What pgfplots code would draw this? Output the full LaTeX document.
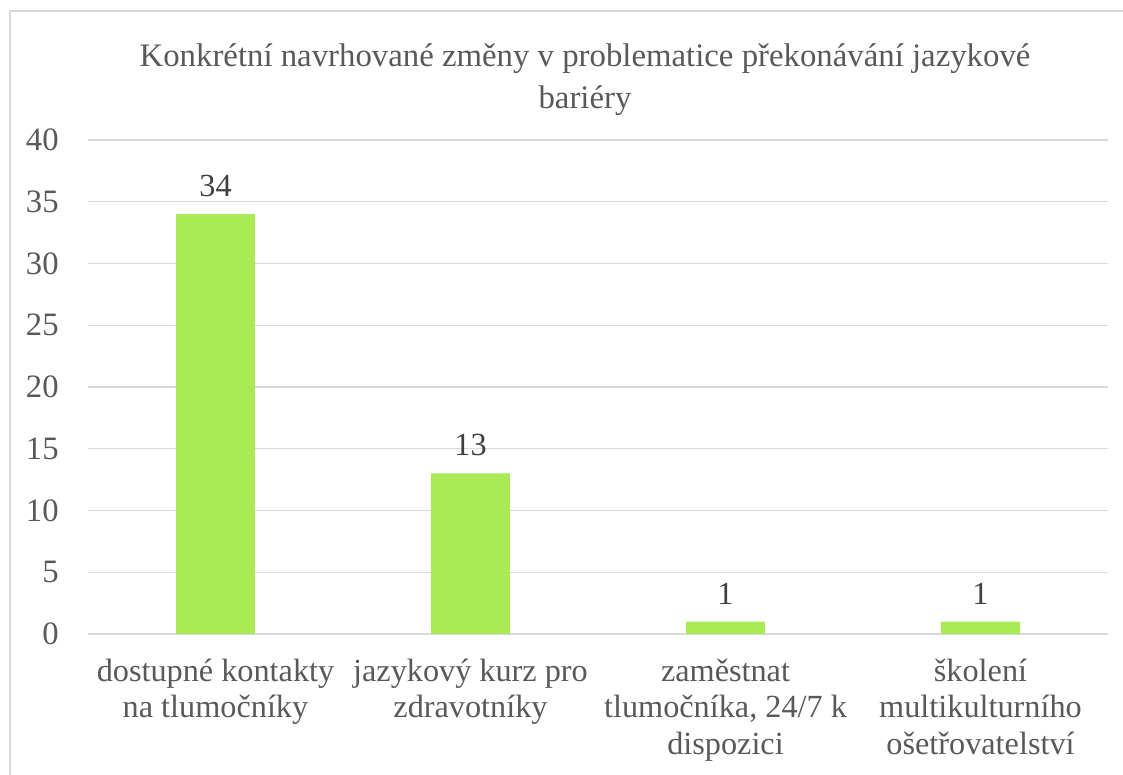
\documentclass[border=0pt]{standalone}
\usepackage{pgfplots}
\pgfplotsset{compat=1.18}
\usepackage{fontspec}
\setmainfont{Liberation Serif}
\definecolor{barc}{HTML}{A9EA55}
\definecolor{txt}{HTML}{595959}
\definecolor{lbl}{HTML}{404040}
\definecolor{gridc}{HTML}{D9D9D9}
\begin{document}
\begin{tikzpicture}
\path[use as bounding box] (0,0) rectangle (842.25pt,580.5pt);
\draw[gridc, line width=1.5pt] (7.5pt,-10pt) -- (7.5pt,572.25pt) -- (860pt,572.25pt);
\node[txt, align=center, font=\rmfamily\fontsize{24.6}{31.5}\selectfont] at (438.75pt,521pt)
  {Konkrétní navrhované změny v problematice překonávání jazykové\\bariéry};
\begin{axis}[
  at={(66pt,105pt)}, anchor=south west,
  scale only axis, width=765pt, height=370.5pt,
  xmin=-0.5, xmax=3.5, ymin=0, ymax=40,
  ytick={0,5,...,40},
  xtick={0,1,2,3},
  xticklabels={{dostupné kontakty\\na tlumočníky},{jazykový kurz pro\\zdravotníky},{zaměstnat\\tlumočníka, 24/7 k\\dispozici},{školení\\multikulturního\\ošetřovatelství}},
  xticklabel style={align=center, font=\rmfamily\fontsize{24.2}{27.5}\selectfont, text=txt, yshift=-15pt},
  yticklabel style={font=\rmfamily\fontsize{24.5}{27}\selectfont, text=txt, xshift=-18.5pt},
  /pgf/number format/assume math mode=true,
  axis line style={draw=none},
  major tick length=0pt,
  ymajorgrids, grid style={gridc, line width=1pt},
  extra y ticks={0}, extra y tick labels={},
  extra y tick style={grid style={gridc,line width=1.2pt}},
  ybar, bar width=59pt,
  nodes near coords,
  nodes near coords style={font=\rmfamily\fontsize{24.2}{27}\selectfont, text=lbl, yshift=9.5pt},
  clip=false,
]
\addplot[fill=barc, draw=none] coordinates {(0,34) (1,13) (2,1) (3,1)};
\end{axis}
\end{tikzpicture}
\end{document}
